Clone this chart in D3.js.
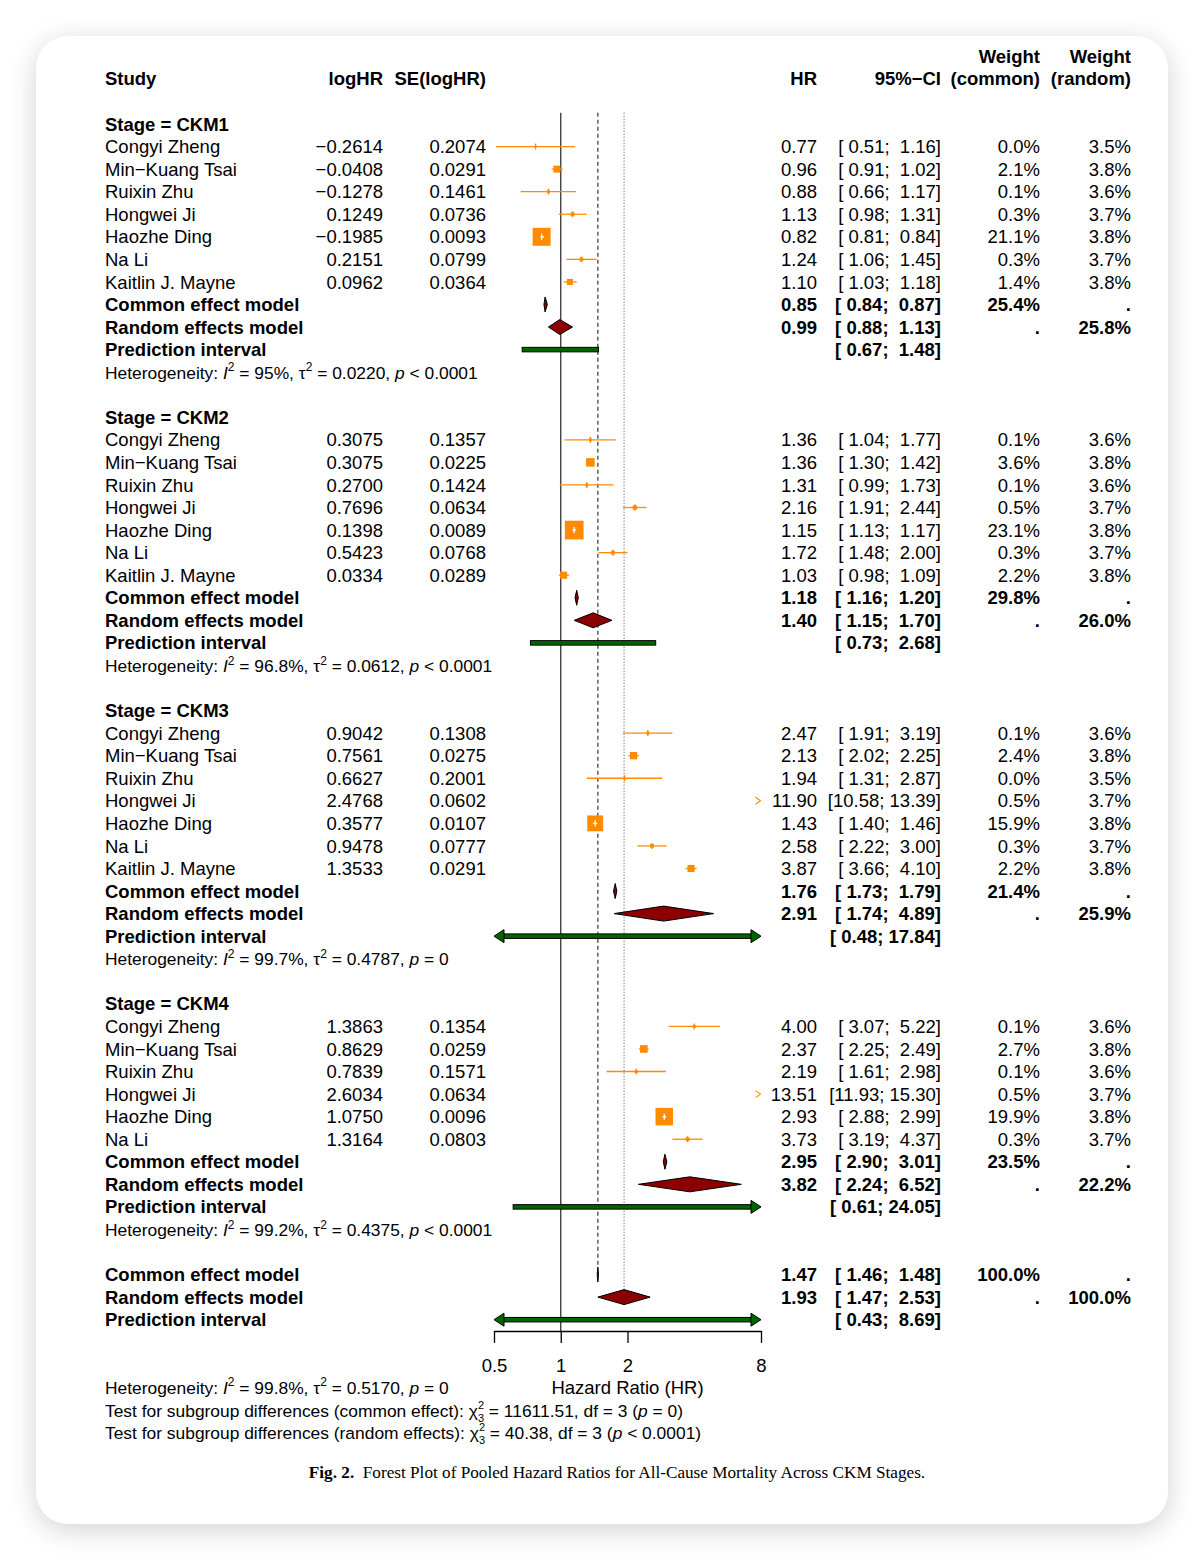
<!DOCTYPE html>
<html><head><meta charset="utf-8">
<script src="https://cdn.jsdelivr.net/npm/d3@7"></script>
<style>
body{margin:0;background:#fff;width:1204px;height:1560px;position:relative;overflow:hidden}
#card{position:absolute;left:36px;top:36px;width:1132px;height:1488px;background:#fff;border-radius:32px;box-shadow:0 6px 28px rgba(0,0,0,.18)}
svg{position:absolute;left:0;top:0}
text{font-family:"Liberation Sans",Arial,Helvetica,sans-serif;font-size:18.5px;fill:#000;white-space:pre}
.b{font-weight:bold}
.small{font-size:17.4px}
.cap{font-family:"Liberation Serif","Times New Roman",serif;font-size:17.2px}
</style></head><body><div id="card"></div><svg id="chart" width="1204" height="1560"></svg>
<script>
const stageNames = ['CKM1', 'CKM2', 'CKM3', 'CKM4'];
const studyNames = ['Congyi Zheng', 'Min−Kuang Tsai', 'Ruixin Zhu', 'Hongwei Ji', 'Haozhe Ding', 'Na Li', 'Kaitlin J. Mayne'];

// one inner array per stage, in study order
const logHR = [
  [-0.2614, -0.0408, -0.1278, 0.1249, -0.1985, 0.2151, 0.0962],
  [0.3075, 0.3075, 0.2700, 0.7696, 0.1398, 0.5423, 0.0334],
  [0.9042, 0.7561, 0.6627, 2.4768, 0.3577, 0.9478, 1.3533],
  [1.3863, 0.8629, 0.7839, 2.6034, 1.0750, 1.3164]
];
const seLogHR = [
  [0.2074, 0.0291, 0.1461, 0.0736, 0.0093, 0.0799, 0.0364],
  [0.1357, 0.0225, 0.1424, 0.0634, 0.0089, 0.0768, 0.0289],
  [0.1308, 0.0275, 0.2001, 0.0602, 0.0107, 0.0777, 0.0291],
  [0.1354, 0.0259, 0.1571, 0.0634, 0.0096, 0.0803]
];
const hr = [
  [0.77, 0.96, 0.88, 1.13, 0.82, 1.24, 1.10],
  [1.36, 1.36, 1.31, 2.16, 1.15, 1.72, 1.03],
  [2.47, 2.13, 1.94, 11.90, 1.43, 2.58, 3.87],
  [4.00, 2.37, 2.19, 13.51, 2.93, 3.73]
];
const ciLow = [
  [0.51, 0.91, 0.66, 0.98, 0.81, 1.06, 1.03],
  [1.04, 1.30, 0.99, 1.91, 1.13, 1.48, 0.98],
  [1.91, 2.02, 1.31, 10.58, 1.40, 2.22, 3.66],
  [3.07, 2.25, 1.61, 11.93, 2.88, 3.19]
];
const ciHigh = [
  [1.16, 1.02, 1.17, 1.31, 0.84, 1.45, 1.18],
  [1.77, 1.42, 1.73, 2.44, 1.17, 2.00, 1.09],
  [3.19, 2.25, 2.87, 13.39, 1.46, 3.00, 4.10],
  [5.22, 2.49, 2.98, 15.30, 2.99, 4.37]
];
const wCommon = [
  [0.0, 2.1, 0.1, 0.3, 21.1, 0.3, 1.4],
  [0.1, 3.6, 0.1, 0.5, 23.1, 0.3, 2.2],
  [0.1, 2.4, 0.0, 0.5, 15.9, 0.3, 2.2],
  [0.1, 2.7, 0.1, 0.5, 19.9, 0.3]
];
const wRandom = [
  [3.5, 3.8, 3.6, 3.7, 3.8, 3.7, 3.8],
  [3.6, 3.8, 3.6, 3.7, 3.8, 3.7, 3.8],
  [3.6, 3.8, 3.5, 3.7, 3.8, 3.7, 3.8],
  [3.6, 3.8, 3.6, 3.7, 3.8, 3.7]
];
// pooled per stage: [HR, lower, upper, weight]
const commonModel = [[0.85, 0.84, 0.87, 25.4], [1.18, 1.16, 1.20, 29.8], [1.76, 1.73, 1.79, 21.4], [2.95, 2.90, 3.01, 23.5]];
const randomModel = [[0.99, 0.88, 1.13, 25.8], [1.40, 1.15, 1.70, 26.0], [2.91, 1.74, 4.89, 25.9], [3.82, 2.24, 6.52, 22.2]];
const predInterval = [[0.67, 1.48], [0.73, 2.68], [0.48, 17.84], [0.61, 24.05]];
// I2, tau2, p relation, p
const hetStats = [['95%', '0.0220', '<', '0.0001'], ['96.8%', '0.0612', '<', '0.0001'], ['99.7%', '0.4787', '=', '0'], ['99.2%', '0.4375', '<', '0.0001']];

const overallCommon = [1.47, 1.46, 1.48, 100.0];
const overallRandom = [1.93, 1.47, 2.53, 100.0];
const overallPred = [0.43, 8.69];
const overallHet = ['99.8%', '0.5170', '=', '0'];
// label, chi2, df, p relation, p
const subgroupTests = [['common effect', '11611.51', '3', '=', '0'], ['random effects', '40.38', '3', '<', '0.0001']];

const xTicks = [0.5, 1, 2, 8];

const svg = d3.select('#chart');
const ORANGE = '#ff8c00', DIAMOND = '#8b0000', PRED = '#006400';

const rowY = d3.scaleLinear().domain([0, 1]).range([124, 146.56]);
const x = d3.scaleLog().domain([0.5, 8]).range([494, 761]);
const BASE = 6.6;
const col = { study: 105, te: 383, se: 486, hr: 817, ci: 941, wc: 1040, wr: 1131 };

const f4 = d3.format('.4f'), f2 = d3.format('.2f'), f1 = d3.format('.1f');
const pad5 = v => { const s = f2(v); return ' '.repeat(Math.max(0, 5 - s.length)) + s; };
const fmtCI = (lo, hi) => `[${pad5(lo)}; ${pad5(hi)}]`;
const pct = v => f1(v) + '%';

const gText = svg.append('g');
const gPlot = svg.append('g');

function txt(xp, r, s, opt = {}) {
  const t = gText.append('text')
    .attr('xml:space', 'preserve')
    .attr('x', xp).attr('y', rowY(r) + BASE)
    .attr('text-anchor', opt.end ? 'end' : 'start')
    .text(s);
  if (opt.bold) t.attr('class', 'b');
  return t;
}

// smaller text with italic, superscript and stacked sup/sub parts
function rich(xp, yp, segs) {
  let cx = xp;
  segs.forEach(s => {
    if (s.stack) {
      const a = gText.append('text').attr('x', cx).attr('y', yp - 8).style('font-size', '11px').text(s.stack[0]);
      const b = gText.append('text').attr('x', cx).attr('y', yp + 5).style('font-size', '11px').text(s.stack[1]);
      cx += Math.max(a.node().getComputedTextLength(), b.node().getComputedTextLength());
    } else {
      const t = gText.append('text').attr('xml:space', 'preserve').attr('class', 'small')
        .attr('x', cx).attr('y', yp + (s.sup ? -7.5 : 0)).text(s.t);
      if (s.it) t.style('font-style', 'italic');
      if (s.sup) t.style('font-size', '12px');
      cx += t.node().getComputedTextLength();
    }
  });
}

function hetLine(r, h) {
  rich(col.study, rowY(r) + BASE, [
    { t: 'Heterogeneity: ' }, { t: 'I', it: true }, { t: '2', sup: true },
    { t: ` = ${h[0]}, τ` }, { t: '2', sup: true }, { t: ` = ${h[1]}, ` },
    { t: 'p', it: true }, { t: ` ${h[2]} ${h[3]}` }
  ]);
}

// header
txt(col.study, -2, 'Study', { bold: true });
txt(col.te, -2, 'logHR', { bold: true, end: true });
txt(col.se, -2, 'SE(logHR)', { bold: true, end: true });
txt(col.hr, -2, 'HR', { bold: true, end: true });
txt(col.ci, -2, '95%−CI', { bold: true, end: true });
txt(col.wc, -3, 'Weight', { bold: true, end: true });
txt(col.wc, -2, '(common)', { bold: true, end: true });
txt(col.wr, -3, 'Weight', { bold: true, end: true });
txt(col.wr, -2, '(random)', { bold: true, end: true });

// reference lines
const topY = rowY(-0.5), axisY = 1331;
gPlot.append('line').attr('x1', x(1)).attr('x2', x(1)).attr('y1', topY).attr('y2', axisY)
  .attr('stroke', '#333').attr('stroke-width', 1.3);
gPlot.append('line').attr('x1', x(overallCommon[0])).attr('x2', x(overallCommon[0]))
  .attr('y1', topY).attr('y2', rowY(51) - 7.5)
  .attr('stroke', '#444').attr('stroke-width', 1.3).attr('stroke-dasharray', '4,3');
gPlot.append('line').attr('x1', x(overallRandom[0])).attr('x2', x(overallRandom[0]))
  .attr('y1', topY).attr('y2', rowY(52) - 7.5)
  .attr('stroke', '#444').attr('stroke-width', 1).attr('stroke-dasharray', '1,2');

const [xMin, xMax] = x.domain();

function study(r, est, lo, hi, w) {
  const y = rowY(r);
  if (lo > xMax || hi < xMin) {
    const right = lo > xMax;
    const ax = right ? x(xMax) - 3 : x(xMin) + 3;
    const d = right ? 5 : -5;
    gPlot.append('path').attr('d', `M${ax - d / 2},${y - 3.5}L${ax + d / 2},${y}L${ax - d / 2},${y + 3.5}`)
      .attr('fill', 'none').attr('stroke', ORANGE).attr('stroke-width', 1.1);
    return;
  }
  const cx = x(est), s = 1.9 + 3.5 * Math.sqrt(w);
  const x1 = x(Math.max(lo, xMin)), x2 = x(Math.min(hi, xMax));
  const inside = x1 >= cx - s / 2 && x2 <= cx + s / 2;
  const drawCI = c => {
    gPlot.append('line').attr('x1', x1).attr('x2', x2).attr('y1', y).attr('y2', y)
      .attr('stroke', c).attr('stroke-width', 1.3);
    gPlot.append('line').attr('x1', cx).attr('x2', cx).attr('y1', y - 3).attr('y2', y + 3)
      .attr('stroke', c).attr('stroke-width', 1.3);
  };
  if (!inside) drawCI(ORANGE);
  gPlot.append('rect').attr('x', cx - s / 2).attr('y', y - s / 2).attr('width', s).attr('height', s)
    .attr('fill', ORANGE);
  if (inside) drawCI('#fff');
}

function diamond(r, est, lo, hi) {
  const y = rowY(r);
  gPlot.append('polygon')
    .attr('points', [[x(lo), y], [x(est), y - 7.5], [x(hi), y], [x(est), y + 7.5]].join(' '))
    .attr('fill', DIAMOND).attr('stroke', '#000').attr('stroke-width', 1);
}

function predBar(r, lo, hi) {
  const y = rowY(r), h = 4.5, aw = 10, ah = 6.5;
  const lArrow = lo < xMin, rArrow = hi > xMax;
  const x1 = x(Math.max(lo, xMin)), x2 = x(Math.min(hi, xMax));
  const b1 = lArrow ? x1 + aw : x1, b2 = rArrow ? x2 - aw : x2;
  gPlot.append('rect').attr('x', b1).attr('y', y - h / 2).attr('width', b2 - b1).attr('height', h)
    .attr('fill', PRED).attr('stroke', '#000').attr('stroke-width', 1);
  if (lArrow) gPlot.append('polygon').attr('points', [[x1, y], [x1 + aw, y - ah], [x1 + aw, y + ah]].join(' '))
    .attr('fill', PRED).attr('stroke', '#000').attr('stroke-width', 1);
  if (rArrow) gPlot.append('polygon').attr('points', [[x2, y], [x2 - aw, y - ah], [x2 - aw, y + ah]].join(' '))
    .attr('fill', PRED).attr('stroke', '#000').attr('stroke-width', 1);
}

function pooledRows(r, cm, rm, pi) {
  txt(col.study, r, 'Common effect model', { bold: true });
  txt(col.hr, r, f2(cm[0]), { bold: true, end: true });
  txt(col.ci, r, fmtCI(cm[1], cm[2]), { bold: true, end: true });
  txt(col.wc, r, pct(cm[3]), { bold: true, end: true });
  txt(col.wr, r, '.', { bold: true, end: true });
  diamond(r, cm[0], cm[1], cm[2]);

  txt(col.study, r + 1, 'Random effects model', { bold: true });
  txt(col.hr, r + 1, f2(rm[0]), { bold: true, end: true });
  txt(col.ci, r + 1, fmtCI(rm[1], rm[2]), { bold: true, end: true });
  txt(col.wc, r + 1, '.', { bold: true, end: true });
  txt(col.wr, r + 1, pct(rm[3]), { bold: true, end: true });
  diamond(r + 1, rm[0], rm[1], rm[2]);

  txt(col.study, r + 2, 'Prediction interval', { bold: true });
  txt(col.ci, r + 2, fmtCI(pi[0], pi[1]), { bold: true, end: true });
  predBar(r + 2, pi[0], pi[1]);
}

let row = 0;
stageNames.forEach((st, k) => {
  txt(col.study, row, 'Stage = ' + st, { bold: true });
  row++;
  hr[k].forEach((v, i) => {
    txt(col.study, row, studyNames[i]);
    txt(col.te, row, f4(logHR[k][i]), { end: true });
    txt(col.se, row, f4(seLogHR[k][i]), { end: true });
    txt(col.hr, row, f2(v), { end: true });
    txt(col.ci, row, fmtCI(ciLow[k][i], ciHigh[k][i]), { end: true });
    txt(col.wc, row, pct(wCommon[k][i]), { end: true });
    txt(col.wr, row, pct(wRandom[k][i]), { end: true });
    study(row, v, ciLow[k][i], ciHigh[k][i], wCommon[k][i]);
    row++;
  });
  pooledRows(row, commonModel[k], randomModel[k], predInterval[k]);
  hetLine(row + 3, hetStats[k]);
  row += 5;
});
pooledRows(row, overallCommon, overallRandom, overallPred);

// axis
const axis = gPlot.append('g').attr('transform', `translate(0,${axisY})`)
  .call(d3.axisBottom(x).tickValues(xTicks).tickFormat(d3.format('')).tickSizeInner(12).tickSizeOuter(0).tickPadding(16));
axis.attr('font-size', null).attr('font-family', null);
axis.selectAll('path,line').attr('stroke', '#000').attr('stroke-width', 1.3);
axis.selectAll('text').attr('fill', '#000');

gText.append('text').attr('x', (x(xMin) + x(xMax)) / 2).attr('y', rowY(56) + BASE)
  .attr('text-anchor', 'middle').text('Hazard Ratio (HR)');

// footer statistics
hetLine(56, overallHet);
subgroupTests.forEach((t, i) => {
  rich(col.study, rowY(57 + i) + BASE, [
    { t: `Test for subgroup differences (${t[0]}): χ` }, { stack: ['2', t[2]] },
    { t: ` = ${t[1]}, df = ${t[2]} (` }, { t: 'p', it: true }, { t: ` ${t[3]} ${t[4]})` }
  ]);
});

// caption
const cap = svg.append('text').attr('class', 'cap').attr('x', 617).attr('y', 1478)
  .attr('text-anchor', 'middle').attr('xml:space', 'preserve');
cap.append('tspan').attr('font-weight', 'bold').text('Fig. 2.');
cap.append('tspan').text('  Forest Plot of Pooled Hazard Ratios for All-Cause Mortality Across CKM Stages.');
</script></body></html>
